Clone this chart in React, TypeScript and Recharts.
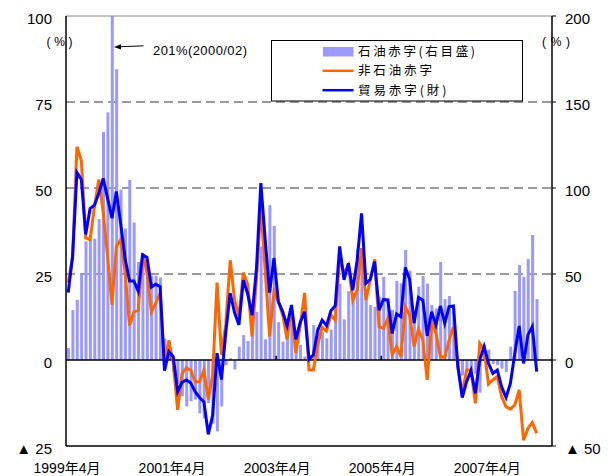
import React from 'react';
import { ComposedChart, Bar, Line, XAxis, YAxis, ReferenceLine, CartesianGrid } from 'recharts';

// Monthly series, 1999/04 .. 2008/03 (108 months)
const START_YEAR = 1999;
const START_MONTH = 4;
const AXIS_MONTHS = 111; // axis runs to 2008/06

const SERIES_OIL = '石油赤字(右目盛)';
const SERIES_NON_OIL = '非石油赤字';
const SERIES_TRADE = '貿易赤字(財)';

// 石油赤字 (right axis, %)
const OIL_DEFICIT = [
  7, 29, 35, 50, 69, 70, 70.5, 82, 132.6, 144,
  201, 169, 99, 76.5, 104.7, 80, 57, 60, 55, 49,
  49, 48, 12.4, 9.6, -7, -14, -21, -27, -24, -23,
  -31, -34, -25, -37, -41.5, -27, -3, 1, -5.5, 7.8,
  14.5, 11, 18, 28, 66, 12, 90, 78, 22, 10.7,
  16.5, 21, 11.6, 8.7, 2, 1.5, 20.3, 19, 16, 12.6,
  17.6, 33, 44.4, 23.6, 40, 39, 64.3, 58, 41, 32,
  31, 36.8, 48.4, 36, 29, 46, 44.6, 64, 52, 29,
  42.6, 48.8, 44.4, 32, 30, 57, 35.4, 37.2, 30, -4,
  -9, -7, -6, -8, -19, 9, 6, -2.3, -3, -5,
  -7, 7.8, 40.2, 55.2, 48.4, 58.7, 72.7, 35.4,
];

// 非石油赤字 (left axis, %)
const NON_OIL_DEFICIT = [
  22.5, 30, 62, 58, 35.5, 35, 44.5, 52.5, 43, 30,
  16, 33, 35, 25.5, 10, 14, 14.5, 31, 25.4, 14,
  16.5, 19.5, -1, 5.7, -1, -14.5, -4, -2.3, -3, -6.3,
  -6.3, -3, -11.5, -4.3, 22.5, 1.5, 10.5, 29, 17.5, 12.7,
  25.4, 22, 6.9, 23.5, 44.5, 26, 6.8, 19.9, 17, 13,
  6, 15, 2, 10, 19.5, -2.9, -2.9, 4.5, 9.5, 8.4,
  13.1, 11.6, 30, 25.2, 27.6, 17.4, 20.3, 32.5, 17.4, 23.3,
  29.3, 9.7, 9.2, 12.1, 1.5, 3.9, 1, 15.5, 13.1, 3.9,
  8.9, 5.8, -5.8, 11.1, 7.7, 1, 0.8, 5.8, 9.7, -1.9,
  -9.7, -2.9, -2.9, -12.6, 4.8, 2.9, -7, -5.8, -4.8, -10.7,
  -13.6, -14.3, -13.1, -8.7, -23.3, -19.9, -18.2, -21.3,
];

// 貿易赤字(財) (left axis, %)
const TRADE_DEFICIT = [
  19.6, 30, 54.5, 52.5, 36.5, 44, 45, 48.5, 52.8, 47,
  41.2, 49, 39.5, 29.5, 23, 23, 20, 30.6, 29.8, 21.2,
  22, 21.3, -3.1, 2.4, 1, -9.2, -6.5, -5.8, -6.7, -9.2,
  -10.9, -12.2, -21.6, -16, 2, -5.7, 8, 19.4, 13.8, 10.2,
  23.2, 19.2, 13, 26.5, 51.4, 35, 19.6, 29.6, 17, 14,
  10, 16, 6, 11, 14, 0.2, 1.5, 8.7, 11.6, 10,
  14.3, 15.8, 33, 23.3, 28.1, 20.3, 29, 42.6, 22.3, 23.4,
  28.6, 14.5, 17.6, 17.4, 7.7, 13.4, 12.6, 26.9, 23.3, 10.7,
  18.2, 17.4, 7, 14, 10.2, 15.7, 10.7, 15.5, 15.7, -1.9,
  -10.9, -6.3, -3.1, -9.7, 0, 3.9, -1, -3.9, -2.9, -7.8,
  -10.9, -6.8, 1.9, 9.9, -1, 7.3, 9.7, -3.4,
];

const X_TICK_INDEX = [0, 24, 48, 72, 96];
const X_TICK_LABELS = ['1999年4月', '2001年4月', '2003年4月', '2005年4月', '2007年4月'];
const LEFT_TICKS = [-25, 0, 25, 50, 75, 100];
const RIGHT_TICKS = [-50, 0, 50, 100, 150, 200];
const GRID_LEFT = [25, 50, 75];

const COLOR_OIL = '#9999FF';
const COLOR_NON_OIL = '#FF6600';
const COLOR_TRADE = '#0000FF';
const FONT = "'Liberation Sans', Arial, 'Noto Sans CJK JP', sans-serif";
const CJK_FONT = "'Noto Sans CJK JP', 'Liberation Sans', sans-serif";

const monthLabel = (i: number) => {
  const m = START_MONTH - 1 + i;
  return `${START_YEAR + Math.floor(m / 12)}/${String((m % 12) + 1).padStart(2, '0')}`;
};

const data = OIL_DEFICIT.map((v, i) => ({
  x: i + 0.5,
  month: monthLabel(i),
  oil: v,
  nonOil: NON_OIL_DEFICIT[i],
  trade: TRADE_DEFICIT[i],
}));

const fmtNeg = (v: number) => (v < 0 ? `▲ ${-v}` : `${v}`);

const LeftTick = (props: any) => {
  const { x, y, payload } = props;
  return (
    <text x={x} y={y + 7.5} textAnchor="end" fontSize={15} fontFamily={FONT} fill="#000">
      {fmtNeg(payload.value)}
    </text>
  );
};

const RightTick = (props: any) => {
  const { x, y, payload } = props;
  return (
    <text x={x} y={y + 7.5} textAnchor="start" fontSize={15} fontFamily={FONT} fill="#000">
      {fmtNeg(payload.value)}
    </text>
  );
};

const XTick = (props: any) => {
  const { x, y, payload } = props;
  const idx = X_TICK_INDEX.indexOf(payload.value);
  if (idx < 0) return null;
  return (
    <text x={x + 1} y={y + 27} textAnchor="middle" fontSize={14} fontFamily={FONT} fill="#000">
      {X_TICK_LABELS[idx]}
    </text>
  );
};

const Overlay = () => (
  <svg
    width={614}
    height={476}
    style={{ position: 'absolute', left: 0, top: 0, pointerEvents: 'none' }}
  >
    <text x={46.5} y={46} fontSize={12} fontFamily={FONT} textLength={26} lengthAdjust="spacing">(%)</text>
    <text x={542} y={46} fontSize={12} fontFamily={FONT} textLength={28} lengthAdjust="spacing">(%)</text>
    <text x={153} y={55} fontSize={13} fontFamily={FONT} textLength={94} lengthAdjust="spacing">201%(2000/02)</text>
    <line x1={143.5} y1={45.8} x2={119} y2={46.8} stroke="#000" strokeWidth={1} />
    <polygon points="114,47 121,44.2 121,49.6" fill="#000" />
    <rect x={271.5} y={40.5} width={251} height={60.5} fill="#fff" stroke="#000" strokeWidth={1} />
    <rect x={323} y={47} width={30.5} height={9.5} fill={COLOR_OIL} />
    <text x={358} y={55.5} fontSize={12.5} fontFamily={CJK_FONT} textLength={117} lengthAdjust="spacing">{SERIES_OIL}</text>
    <line x1={322.5} y1={70.8} x2={353.5} y2={70.8} stroke={COLOR_NON_OIL} strokeWidth={2.5} />
    <text x={358} y={75} fontSize={12.5} fontFamily={CJK_FONT} textLength={74} lengthAdjust="spacing">{SERIES_NON_OIL}</text>
    <line x1={322.5} y1={90.2} x2={353.5} y2={90.2} stroke={COLOR_TRADE} strokeWidth={2.5} />
    <text x={358} y={94.5} fontSize={12.5} fontFamily={CJK_FONT} textLength={88.5} lengthAdjust="spacing">{SERIES_TRADE}</text>
  </svg>
);

export default function App() {
  return (
    <div style={{ position: 'absolute', left: 0, top: 0, width: 614, height: 476, background: '#fff' }}>
      <ComposedChart
        width={614}
        height={476}
        data={data}
        margin={{ top: 16, right: 0, bottom: 0, left: 0 }}
      >
        <CartesianGrid
          yAxisId="left"
          vertical={false}
          horizontalValues={GRID_LEFT}
          stroke="#7a7a7a"
          strokeWidth={1.5}
          strokeDasharray="9 5"
        />
        <XAxis
          type="number"
          dataKey="x"
          domain={[0, AXIS_MONTHS]}
          ticks={X_TICK_INDEX}
          interval={0}
          allowDataOverflow
          height={30}
          tickLine={false}
          tickSize={0}
          tickMargin={0}
          axisLine={{ stroke: '#000', strokeWidth: 1.5 }}
          tick={<XTick />}
        />
        <YAxis
          yAxisId="left"
          orientation="left"
          width={66}
          domain={[-25, 100]}
          ticks={LEFT_TICKS}
          interval={0}
          allowDataOverflow
          tickLine={false}
          tickSize={0}
          tickMargin={14}
          axisLine={{ stroke: '#000', strokeWidth: 1.5 }}
          tick={<LeftTick />}
        />
        <YAxis
          yAxisId="right"
          orientation="right"
          width={62}
          domain={[-50, 200]}
          ticks={RIGHT_TICKS}
          interval={0}
          allowDataOverflow
          tickLine={{ stroke: '#000', strokeWidth: 1 }}
          tickSize={4}
          tickMargin={9}
          axisLine={{ stroke: '#000', strokeWidth: 1.5 }}
          tick={<RightTick />}
        />
        <ReferenceLine yAxisId="left" y={100} stroke="#888" strokeWidth={1} />
        <Bar
          yAxisId="right"
          dataKey="oil"
          name={SERIES_OIL}
          fill={COLOR_OIL}
          barSize={3}
          isAnimationActive={false}
        />
        <ReferenceLine yAxisId="left" y={0} stroke="#000" strokeWidth={1.5} />
        {X_TICK_INDEX.slice(1).map((v) => (
          <ReferenceLine
            key={`t${v}`}
            yAxisId="left"
            segment={[{ x: v, y: 0 }, { x: v, y: 1.2 }]}
            stroke="#000"
            strokeWidth={1.5}
          />
        ))}
        <Line
          yAxisId="left"
          type="linear"
          dataKey="nonOil"
          name={SERIES_NON_OIL}
          stroke={COLOR_NON_OIL}
          strokeWidth={3}
          dot={false}
          activeDot={false}
          isAnimationActive={false}
        />
        <Line
          yAxisId="left"
          type="linear"
          dataKey="trade"
          name={SERIES_TRADE}
          stroke={COLOR_TRADE}
          strokeWidth={3}
          dot={false}
          activeDot={false}
          isAnimationActive={false}
        />
      </ComposedChart>
      <Overlay />
    </div>
  );
}
